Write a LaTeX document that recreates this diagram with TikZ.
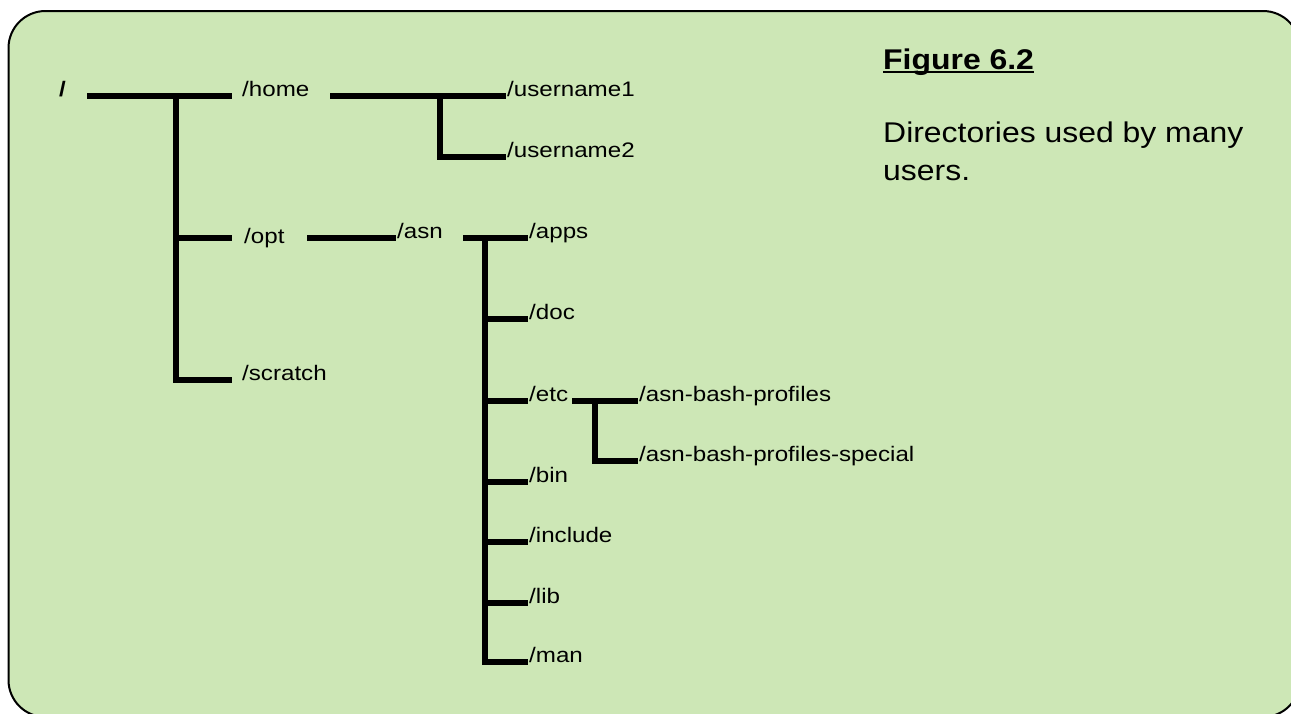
\documentclass[tikz,border=0pt]{standalone}
\usepackage{fontspec}
\setmainfont{Liberation Sans}
\definecolor{boxgreen}{RGB}{205,231,182}
\newcommand{\hstretch}[1]{\scalebox{1.15}[1]{#1}}
\newcommand{\hstretchb}[1]{\scalebox{1.12}[1]{#1}}
\begin{document}
\begin{tikzpicture}[x=1pt,y=-1pt,
  tree/.style={line width=5.3pt,line join=miter},
  lbl/.style={anchor=base west,inner sep=0pt,font=\fontsize{21}{25}\selectfont},
  big/.style={anchor=base west,inner sep=0pt,font=\fontsize{28.5}{34}\selectfont},
]
\useasboundingbox (0,0) rectangle (1291,713);
\clip (0,0) rectangle (1291,713);
\draw[fill=boxgreen,line width=2pt,rounded corners=37pt] (8.5,11) rectangle (1300,717);

% labels
\node[lbl,font=\fontsize{21}{25}\selectfont\bfseries] (root) at (59,96) {\hstretch{/}};
\node[lbl] (home) at (242,96) {\hstretch{/home}};
\node[lbl] (opt) at (244,243) {\hstretch{/opt}};
\node[lbl] (scratch) at (242,380) {\hstretch{/scratch}};
\node[lbl] (user1) at (507,96) {\hstretch{/username1}};
\node[lbl] (user2) at (507,157) {\hstretch{/username2}};
\node[lbl] (asn) at (397,238) {\hstretch{/asn}};
\node[lbl] (apps) at (529,238) {\hstretch{/apps}};
\node[lbl] (doc) at (529,319) {\hstretch{/doc}};
\node[lbl] (etc) at (529,401) {\hstretch{/etc}};
\node[lbl] (bin) at (529,482) {\hstretch{/bin}};
\node[lbl] (include) at (529,542) {\hstretch{/include}};
\node[lbl] (lib) at (529,603) {\hstretch{/lib}};
\node[lbl] (man) at (529,662) {\hstretch{/man}};
\node[lbl] (prof) at (639,401) {\hstretch{/asn-bash-profiles}};
\node[lbl] (profs) at (639,461) {\hstretch{/asn-bash-profiles-special}};

\node[big,font=\fontsize{28.5}{34}\selectfont\bfseries] (fig) at (883,69) {\hstretchb{Figure 6.2}};
\draw[line width=1.6pt] ([yshift=-3pt]fig.base west) -- ([yshift=-3pt]fig.base east);
\node[big] (desc1) at (883,142) {\hstretchb{Directories used by many}};
\node[big] (desc2) at (883,180) {\hstretchb{users.}};

% junction coordinates
\coordinate (r0) at (87,96);
\coordinate (r1) at (232,96);
\coordinate (rj) at (176,96);
\coordinate (rjo) at (176,238);
\coordinate (ro) at (232,238);
\coordinate (rjs) at (176,380);
\coordinate (rs) at (232,380);

\coordinate (h0) at (330,96);
\coordinate (h1) at (506,96);
\coordinate (hj) at (440,96);
\coordinate (hj2) at (440,157);
\coordinate (h2) at (506,157);

\coordinate (o0) at (307,238);
\coordinate (o1) at (396,238);

\coordinate (a0) at (463,238);
\coordinate (a1) at (528,238);
\coordinate (aj) at (485,238);
\coordinate (ajd) at (485,319);
\coordinate (ad) at (528,319);
\coordinate (aje) at (485,401);
\coordinate (ae) at (528,401);
\coordinate (ajb) at (485,482);
\coordinate (ab) at (528,482);
\coordinate (aji) at (485,542);
\coordinate (ai) at (528,542);
\coordinate (ajl) at (485,603);
\coordinate (al) at (528,603);
\coordinate (ajm) at (485,662);
\coordinate (am) at (528,662);

\coordinate (e0) at (572,401);
\coordinate (e1) at (638,401);
\coordinate (ej) at (595,401);
\coordinate (ej2) at (595,461);
\coordinate (e2) at (638,461);

% tree lines
\draw[tree] (r0) -- (r1);
\draw[tree] (rj) -- (rjs) -- (rs);
\draw[tree] (rjo) -- (ro);

\draw[tree] (h0) -- (h1);
\draw[tree] (hj) -- (hj2) -- (h2);

\draw[tree] (o0) -- (o1);

\draw[tree] (a0) -- (a1);
\draw[tree] (aj) -- (ajm) -- (am);
\draw[tree] (ajd) -- (ad);
\draw[tree] (aje) -- (ae);
\draw[tree] (ajb) -- (ab);
\draw[tree] (aji) -- (ai);
\draw[tree] (ajl) -- (al);

\draw[tree] (e0) -- (e1);
\draw[tree] (ej) -- (ej2) -- (e2);
\end{tikzpicture}
\end{document}
